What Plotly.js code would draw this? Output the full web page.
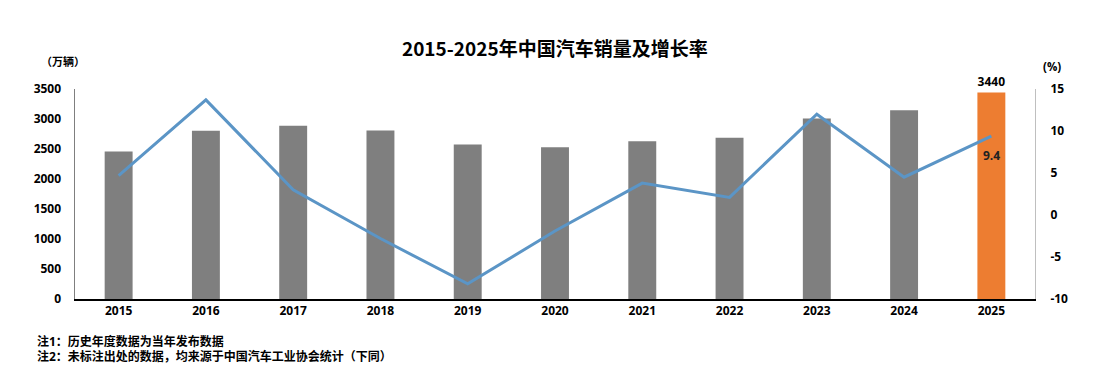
<!DOCTYPE html>
<html><head><meta charset="utf-8">
<script src="https://cdn.plot.ly/plotly-3.0.1.min.js"></script>
<style>html,body{margin:0;padding:0;background:#fff}#chart{width:1103px;height:366px}</style>
</head><body><div id="chart"></div>
<script>
const years = ['2015','2016','2017','2018','2019','2020','2021','2022','2023','2024','2025'];
const sales = [2460, 2803, 2888, 2808, 2577, 2531, 2628, 2686, 3009, 3144, 3440];
const growth = [4.7, 13.7, 3.0, -2.8, -8.2, -1.9, 3.8, 2.1, 12.0, 4.5, 9.4];
const salesLabels = ['', '', '', '', '', '', '', '', '', '', '3440'];
const growthTickVals = [-10, -5, 0, 5, 10, 15];
const growthTickText = ['-10', '-5', '0', '5', '10', '15'];
const notes = ['注1：历史年度数据为当年发布数据', '注2：未标注出处的数据，均来源于中国汽车工业协会统计（下同）'];

const FONT = '"Open Sans", "Noto Sans CJK SC", sans-serif';
const barColors = sales.map((v, i) => i === sales.length - 1 ? '#ED7D31' : '#7F7F7F');
const last = years.length - 1;

const traces = [
  {type: 'bar', x: years, y: sales, marker: {color: barColors}, text: salesLabels,
   textposition: 'outside', cliponaxis: false,
   textfont: {family: FONT, size: 12, color: '#000', weight: 'bold'}, hoverinfo: 'none'},
  {type: 'scatter', mode: 'lines', x: years, y: growth, yaxis: 'y2',
   line: {color: '#5B95C6', width: 3}, cliponaxis: false, hoverinfo: 'none'}
];

const annotations = [
  {xref: 'x', yref: 'y2', x: last, y: growth[last], yshift: -19, showarrow: false,
   text: String(growth[last]), font: {family: FONT, size: 12, color: '#222', weight: 'bold'}},
  {xref: 'paper', yref: 'paper', x: -0.0125, y: 1.13, xanchor: 'center', yanchor: 'middle', showarrow: false,
   text: '（万辆）', font: {family: FONT, size: 11, color: '#000', weight: 'bold'}},
  {xref: 'paper', yref: 'paper', x: 1.018, y: 1.105, xanchor: 'center', yanchor: 'middle', showarrow: false,
   text: '(%)', font: {family: FONT, size: 11.5, color: '#000', weight: 'bold'}},
  {xref: 'paper', yref: 'paper', x: -0.0415, y: -0.2, xanchor: 'left', yanchor: 'middle', showarrow: false, align: 'left',
   text: notes[0], font: {family: FONT, size: 12, color: '#000', weight: 'bold'}},
  {xref: 'paper', yref: 'paper', x: -0.0415, y: -0.275, xanchor: 'left', yanchor: 'middle', showarrow: false, align: 'left',
   text: notes[1], font: {family: FONT, size: 12, color: '#000', weight: 'bold'}}
];

const layout = {
  width: 1103, height: 366,
  margin: {l: 75, r: 68, t: 89, b: 67},
  paper_bgcolor: '#fff', plot_bgcolor: 'rgba(0,0,0,0)',
  showlegend: false, bargap: 0.68,
  title: {text: '2015-2025年中国汽车销量及增长率', x: 0.503, xanchor: 'center', y: 0.865, yanchor: 'middle',
          font: {family: '"Noto Sans CJK SC", sans-serif', size: 19, color: '#000', weight: 'bold'}},
  xaxis: {type: 'category', range: [-0.5, years.length - 0.5], showgrid: false, showline: true, linecolor: '#000', linewidth: 1.5,
          ticks: '', tickfont: {family: FONT, size: 12, color: '#000', weight: 'bold'}, fixedrange: true},
  yaxis: {range: [0, 3500], dtick: 500, showgrid: false, zeroline: false, showline: true, linecolor: '#7F7F7F',
          linewidth: 1.5, ticks: '', ticklabelstandoff: 10,
          tickfont: {family: FONT, size: 12, color: '#000', weight: 'bold'}},
  yaxis2: {range: [-10, 15], tickmode: 'array', tickvals: growthTickVals, ticktext: growthTickText,
           overlaying: 'y', side: 'right', showgrid: false, zeroline: false,
           showline: true, linecolor: '#BFBFBF', linewidth: 1, ticks: '', ticklabelstandoff: 12,
           tickfont: {family: FONT, size: 12, color: '#000', weight: 'bold'}},
  annotations: annotations
};

Plotly.newPlot('chart', traces, layout, {displayModeBar: false, staticPlot: true});
</script>
</body></html>
